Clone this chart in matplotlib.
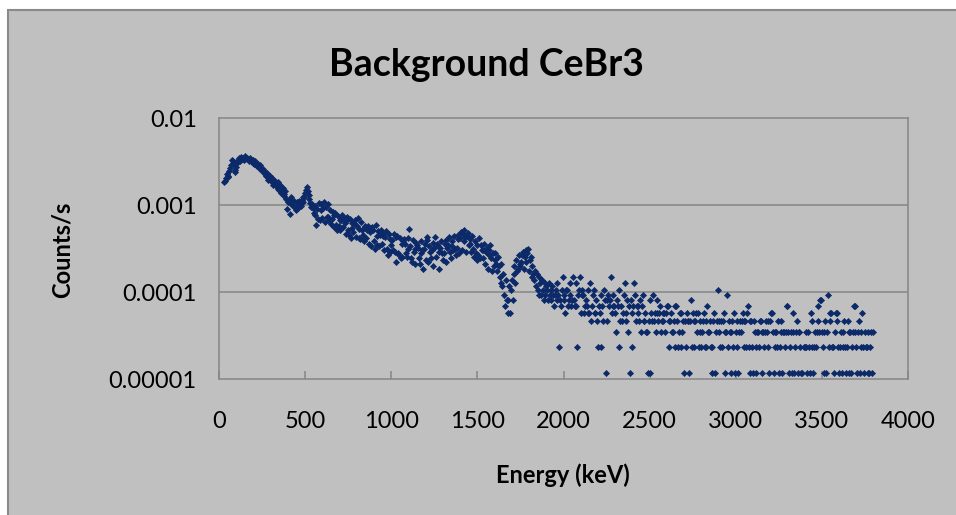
import numpy as np
import matplotlib.pyplot as plt
import matplotlib.patches as patches
from matplotlib.ticker import FixedLocator, FixedFormatter, NullLocator

# spectrum: counts per channel, first channel at 30 keV, 5 keV per channel
start_kev = 30.0
kev_per_channel = 5.0
live_time = 86400.0  # s

# 30 - 1900 keV, one row = 75 keV
counts_low = [
    158, 165, 176, 195, 188, 181, 214, 231, 252, 287, 275, 258, 216, 207, 238,
    262, 284, 298, 275, 295, 310, 289, 303, 281, 312, 300, 290, 301, 292, 278,
    298, 281, 270, 287, 264, 255, 276, 251, 244, 259, 239, 230, 246, 225, 212,
    226, 210, 198, 184, 192, 200, 168, 181, 186, 161, 169, 176, 148, 158, 163,
    146, 139, 160, 131, 127, 147, 120, 129, 137, 109, 116, 124, 100, 78, 94,
    99, 91, 68, 106, 95, 84, 96, 81, 76, 93, 85, 80, 95, 88, 84,
    99, 94, 108, 106, 119, 127, 138, 124, 112, 101, 92, 83, 88, 79, 70,
    84, 66, 51, 78, 60, 90, 58, 88, 75, 62, 80, 94, 55, 81, 63,
    88, 63, 57, 76, 52, 60, 72, 48, 66, 70, 51, 45, 64, 49, 58,
    44, 58, 66, 48, 61, 53, 40, 56, 63, 45, 39, 59, 36, 47, 54,
    42, 53, 58, 37, 49, 61, 46, 36, 35, 55, 44, 39, 33, 50, 48,
    36, 45, 50, 31, 42, 47, 29, 48, 44, 33, 27, 51, 30, 38, 43,
    29, 39, 45, 31, 41, 38, 26, 37, 43, 27, 23, 40, 35, 25, 30,
    34, 26, 40, 25, 37, 19, 38, 24, 23, 36, 21, 31, 22, 33, 35,
    31, 24, 22, 36, 27, 46, 29, 21, 19, 34, 25, 27, 18, 32, 30,
    28, 21, 18, 33, 24, 26, 16, 27, 31, 20, 37, 34, 19, 29, 25,
    21, 26, 32, 17, 28, 37, 22, 31, 29, 16, 25, 28, 33, 24, 20,
    24, 31, 34, 19, 28, 30, 37, 25, 21, 33, 29, 26, 38, 27, 23,
    28, 35, 39, 24, 36, 42, 26, 40, 33, 44, 37, 25, 38, 41, 30,
    35, 31, 25, 38, 27, 22, 33, 24, 20, 30, 23, 36, 21, 30, 26,
    26, 21, 31, 18, 25, 28, 16, 26, 23, 30, 21, 15, 24, 17, 20,
    24, 18, 15, 22, 17, 13, 18, 11, 10, 14, 8, 6, 12, 7, 5,
    7, 10, 5, 9, 12, 7, 14, 17, 11, 20, 15, 16, 23, 18, 17,
    19, 23, 25, 16, 22, 26, 19, 24, 27, 15, 20, 22, 13, 17, 14,
    12, 15, 10, 14, 9, 8, 13, 11, 8, 12, 9, 7, 11, 8, 10,
]

# 1905 - 3795 keV (few counts per channel), one row = 75 keV
counts_high = [
    9, 7, 11, 8, 9, 7, 10, 8, 6, 8, 9, 11, 7, 8, 2,
    7, 6, 9, 13, 7, 8, 5, 9, 9, 6, 7, 8, 11, 6, 7,
    13, 7, 6, 11, 6, 2, 8, 9, 13, 5, 8, 9, 8, 5, 6,
    7, 6, 5, 9, 5, 11, 4, 6, 8, 9, 5, 5, 7, 4, 2,
    6, 5, 2, 8, 6, 4, 9, 7, 1, 7, 4, 8, 6, 7, 13,
    5, 6, 8, 6, 5, 3, 7, 6, 2, 9, 4, 6, 4, 5, 8,
    11, 5, 4, 7, 3, 6, 1, 7, 2, 5, 6, 11, 8, 4, 6,
    5, 6, 4, 7, 3, 6, 8, 4, 4, 5, 3, 3, 1, 4, 7,
    1, 5, 4, 8, 4, 5, 3, 5, 7, 4, 5, 6, 3, 4, 5,
    4, 5, 3, 5, 6, 6, 2, 4, 4, 5, 3, 3, 4, 6, 2,
    6, 4, 2, 3, 5, 5, 2, 3, 4, 1, 4, 2, 5, 4, 4,
    1, 4, 7, 2, 5, 4, 2, 4, 5, 3, 5, 2, 4, 3, 2,
    3, 4, 5, 2, 4, 2, 6, 3, 3, 4, 2, 2, 1, 4, 5,
    1, 3, 4, 9, 4, 3, 2, 4, 2, 4, 5, 3, 1, 3, 8,
    2, 4, 3, 1, 3, 4, 2, 5, 1, 3, 4, 2, 1, 3, 4,
    3, 4, 5, 2, 4, 4, 2, 5, 6, 2, 4, 1, 4, 2, 1,
    4, 3, 2, 1, 3, 3, 2, 4, 4, 1, 3, 3, 2, 3, 4,
    3, 4, 2, 1, 4, 5, 5, 3, 1, 2, 3, 3, 2, 4, 1,
    2, 3, 4, 1, 3, 3, 2, 3, 6, 6, 3, 1, 2, 3, 1,
    5, 3, 1, 2, 3, 4, 1, 3, 3, 2, 1, 1, 0, 2, 2,
    2, 3, 1, 3, 2, 1, 5, 4, 2, 1, 2, 3, 2, 3, 6,
    4, 3, 7, 7, 3, 2, 1, 3, 4, 1, 3, 8, 2, 4, 5,
    5, 2, 2, 1, 3, 5, 5, 4, 2, 1, 2, 3, 1, 3, 2,
    4, 2, 1, 2, 4, 3, 1, 3, 1, 2, 3, 6, 6, 3, 2,
    1, 3, 4, 1, 3, 2, 5, 2, 1, 3, 2, 2, 1, 3, 1,
    2, 3, 1, 3,
]

x_ticks = [0, 500, 1000, 1500, 2000, 2500, 3000, 3500, 4000]
y_ticks = [1e-5, 1e-4, 1e-3, 1e-2]
y_labels = ['0.00001', '0.0001', '0.001', '0.01']

counts = np.array(counts_low + counts_high)
energy = start_kev + kev_per_channel * np.arange(len(counts))
rate = counts / live_time
keep = counts > 0

W, H = 956, 515
fig = plt.figure(figsize=(W / 100, H / 100), dpi=100)
fig.patch.set_facecolor('white')
plt.rcParams['font.family'] = ['Lato', 'DejaVu Sans']

# chart area
bg = patches.Rectangle((8 / W, -0.05), 1.2, 1 - 10 / H + 0.05, transform=fig.transFigure,
                       facecolor='#c0c0c0', edgecolor='#8a8a8a', linewidth=1.5, zorder=-10)
fig.add_artist(bg)

# plot area in pixels: x 219..908, y 118..379
ax = fig.add_axes([219 / W, 1 - 379 / H, (908 - 219) / W, (379 - 118) / H])
ax.set_facecolor('none')
ax.set_yscale('log')
ax.set_xlim(0, 4000)
ax.set_ylim(1e-5, 1e-2)

navy = '#0c2a6a'
ax.plot(energy[keep], rate[keep], linestyle='none', marker='D', markersize=3.1,
        markerfacecolor=navy, markeredgecolor=navy, markeredgewidth=0.5)

grey = '#868686'
for yv in y_ticks[1:-1]:
    ax.axhline(yv, color=grey, linewidth=1.1, zorder=0)
for s in ax.spines.values():
    s.set_color(grey)
    s.set_linewidth(1.1)

ax.xaxis.set_major_locator(FixedLocator(x_ticks))
ax.yaxis.set_major_locator(FixedLocator(y_ticks))
ax.yaxis.set_major_formatter(FixedFormatter(y_labels))
ax.yaxis.set_minor_locator(NullLocator())
ax.tick_params(axis='x', direction='in', length=6, width=1.1, color=grey,
               labelsize=17, pad=23)
ax.tick_params(axis='y', direction='in', length=0, labelsize=17, pad=16)

def px(x, y):
    return x / W, 1 - y / H

fig.text(*px(486, 76), 'Background CeBr3', ha='center', va='baseline',
         fontsize=27, fontweight='bold')
fig.text(*px(62, 250), 'Counts/s', ha='center', va='center', rotation=90,
         fontsize=17, fontweight='bold')
fig.text(*px(563, 475), 'Energy (keV)', ha='center', va='center',
         fontsize=17, fontweight='bold')

fig.savefig('out.png', dpi=100, facecolor=fig.get_facecolor())
